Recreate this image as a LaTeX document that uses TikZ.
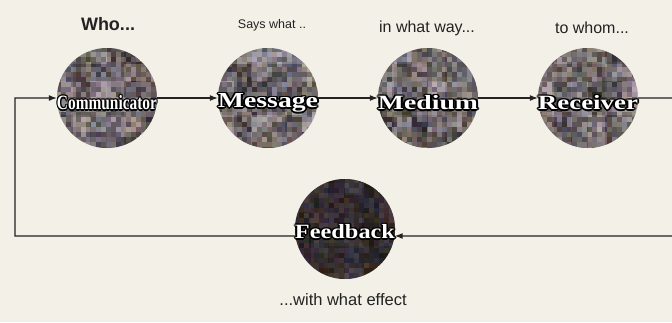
\documentclass[tikz,border=0pt]{standalone}
\usepackage{fontspec}
\usetikzlibrary{arrows.meta}
\newfontfamily\lfont{Liberation Sans}
\newfontfamily\cfont{Liberation Serif}
\definecolor{paper}{HTML}{F2F0E7}
\definecolor{ink}{HTML}{222222}
\newsavebox\olbox
\newcommand\olbase[1]{\setbox\olbox\hbox{#1}%
 \rlap{\color{black}\raisebox{0.7pt}{\usebox\olbox}}%
 \rlap{\color{black}\raisebox{-0.7pt}{\usebox\olbox}}%
 \rlap{\color{black}\kern0.7pt\usebox\olbox}%
 \rlap{\color{black}\kern-0.7pt\usebox\olbox}%
 \rlap{\color{black}\kern0.5pt\raisebox{0.5pt}{\usebox\olbox}}%
 \rlap{\color{black}\kern-0.5pt\raisebox{0.5pt}{\usebox\olbox}}%
 \rlap{\color{black}\kern0.5pt\raisebox{-0.5pt}{\usebox\olbox}}%
 \rlap{\color{black}\kern-0.5pt\raisebox{-0.5pt}{\usebox\olbox}}%
 {\color{white}\usebox\olbox}}
\newcommand\ctext[1]{\resizebox{100pt}{15.5pt}{\olbase{\cfont\bfseries #1}}}
\newcommand\mosaic[4]{%
 \begin{scope}
  \clip (#1,#2) circle (50);
  \foreach \i in {0,...,5}{\foreach \j in {0,...,5}{
    \pgfmathsetmacro\g{#3+#4*rnd}
    \pgfmathsetmacro\r{min(1,max(0,\g+0.10*rnd-0.02))}
    \pgfmathsetmacro\b{min(1,max(0,\g+0.16*rnd-0.07))}
    \definecolor{tc}{rgb}{\r,\g,\b}
    \fill[tc] (#1-51+17*\i,#2-51+17*\j) rectangle ++(17.3,17.3);
  }}
  \foreach \i in {0,...,20}{\foreach \j in {0,...,20}{
    \pgfmathsetmacro\g{#3+#4*rnd}
    \pgfmathsetmacro\r{min(1,max(0,\g+0.12*rnd-0.03))}
    \pgfmathsetmacro\b{min(1,max(0,\g+0.18*rnd-0.08))}
    \definecolor{tc}{rgb}{\r,\g,\b}
    \fill[tc,fill opacity=0.6] (#1-51+5*\i,#2-51+5*\j) rectangle ++(5,5);
  }}
 \end{scope}}
\tikzset{
 ball/.style={circle,minimum size=100pt,inner sep=0pt},
 lab/.style={font=\lfont,text=ink,inner sep=0pt},
 conn/.style={draw=ink,line width=1.1pt},
 arr/.style={conn,-{Latex[length=8pt,width=6pt]}},
}
\begin{document}
\begin{tikzpicture}[x=1pt,y=-1pt]
\useasboundingbox (0,0) rectangle (672,322);
\fill[paper] (0,0) rectangle (672,322);
\pgfmathsetseed{7}
\mosaic{107}{98}{0.14}{0.55}
\mosaic{268}{98}{0.14}{0.55}
\mosaic{428}{98}{0.14}{0.55}
\mosaic{588}{98}{0.14}{0.55}
\mosaic{345}{229}{0.08}{0.2}
\node[ball] (comm) at (107,98) {};
\node[ball] (msg) at (268,98) {};
\node[ball] (med) at (428,98) {};
\node[ball] (rec) at (588,98) {};
\node[ball] (fb) at (345,229) {};
\node (commt) at (107,103) {\ctext{Communicator}};
\node (msgt) at (268,103) {\ctext{Message}};
\node (medt) at (428,103) {\ctext{Medium}};
\node (rect) at (588,103) {\ctext{Receiver}};
\node (fbt) at (345,232) {\ctext{Feedback}};
\node[lab,font=\lfont\bfseries\fontsize{18}{20}\selectfont] (who) at (108,24) {Who...};
\node[lab,font=\lfont\fontsize{12.5}{14}\selectfont] (says) at (272,25) {Says what ..};
\node[lab,font=\lfont\fontsize{16}{18}\selectfont] (way) at (427,28) {in what way...};
\node[lab,font=\lfont\fontsize{16}{18}\selectfont] (whom) at (592,28) {to whom...};
\node[lab,font=\lfont\fontsize{16.5}{18}\selectfont] (eff) at (343,300) {...with what effect};
\coordinate (re) at (675,98);
\coordinate (rb) at (675,236);
\coordinate (lb) at (15,236);
\coordinate (lt) at (15,98);
\draw[arr] (comm) -- (msg);
\draw[arr] (msg) -- (med);
\draw[arr] (med) -- (rec);
\draw[arr] (rec) -- (re) -- (rb) -- (fb.352);
\draw[arr] (fb.188) -- (lb) -- (lt) -- (comm);
\end{tikzpicture}
\end{document}
